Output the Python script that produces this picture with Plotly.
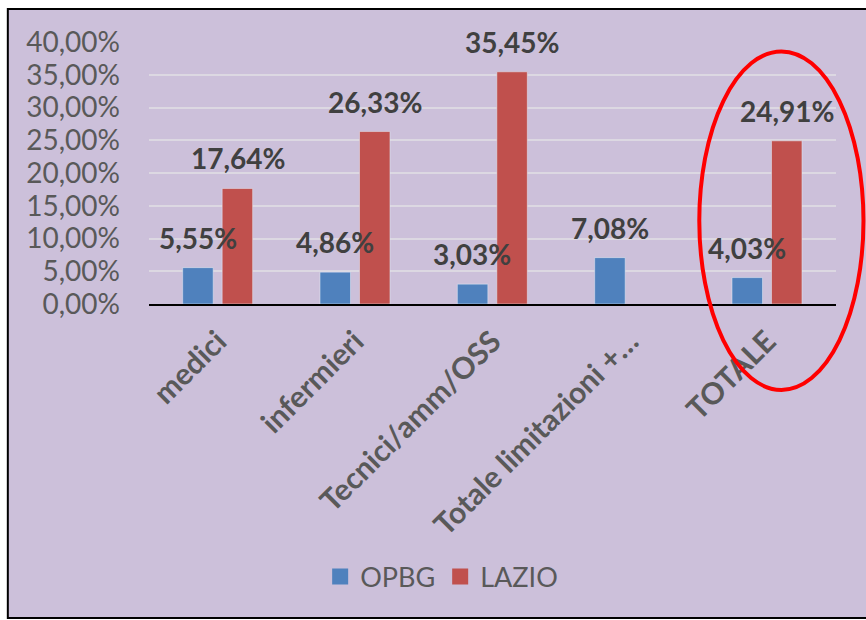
import plotly.graph_objects as go

categories = ["medici", "infermieri", "Tecnici/amm/OSS", "Totale limitazioni +…", "TOTALE"]
opbg = [5.55, 4.86, 3.03, 7.08, 4.03]
lazio = [17.64, 26.33, 35.45, None, 24.91]
tick_vals = [0, 5, 10, 15, 20, 25, 30, 35, 40]
tick_text = ["0,00%", "5,00%", "10,00%", "15,00%", "20,00%", "25,00%", "30,00%", "35,00%", "40,00%"]

BLUE = "#4F81BD"
RED = "#C0504D"
BG = "#CCC0DA"
FONT = "Lato"

def fmt(v):
    return f"{v:.2f}".replace(".", ",") + "%"

fig = go.Figure()
fig.add_trace(go.Bar(name="OPBG", x=categories, y=opbg, marker_color=BLUE, showlegend=False))
fig.add_trace(go.Bar(name="LAZIO", x=categories, y=lazio, marker_color=RED, showlegend=False))
# legend entries with larger square swatches
for name, col in (("OPBG", BLUE), ("LAZIO", RED)):
    fig.add_trace(go.Scatter(name=name, x=[None], y=[None], mode="markers",
                             marker=dict(symbol="square", size=18, color=col)))

annotations = []
for series, shift in ((opbg, -20), (lazio, 20)):
    for c, v in zip(categories, series):
        if v is None:
            continue
        annotations.append(dict(
            x=c, y=v, xref="x", yref="y", text=fmt(v), showarrow=False,
            xshift=shift, yshift=30, yanchor="middle", xanchor="center",
            font=dict(family=FONT, size=28, color="#404040", weight="bold"),
        ))

fig.update_layout(
    width=866, height=620,
    margin=dict(l=149, r=30, t=42, b=316),
    paper_bgcolor="white",
    plot_bgcolor=BG,
    barmode="group",
    bargap=0.425,
    bargroupgap=0.228,
    font=dict(family=FONT, size=28, color="#595959"),
    showlegend=True,
    legend=dict(
        orientation="h", x=0.426, xanchor="center", y=-1.042, yanchor="middle",
        font=dict(family=FONT, size=27, color="#595959"),
        bgcolor="rgba(0,0,0,0)", itemwidth=30,
    ),
    annotations=annotations,
    shapes=[
        dict(type="rect", xref="paper", yref="paper", x0=-0.2055, x1=1.06, y0=-1.198, y1=1.126,
             fillcolor=BG, line=dict(color="black", width=2), layer="below"),
        dict(type="circle", xref="paper", yref="paper", x0=0.801, x1=1.04, y0=-0.328, y1=0.964,
             line=dict(color="#FF0000", width=4), layer="above"),
    ],
)
fig.update_yaxes(
    range=[0, 40], tickvals=tick_vals, ticktext=tick_text,
    showgrid=True, gridcolor="#DCD8E2", gridwidth=2,
    zeroline=False, showline=False, ticks="", ticklabelstandoff=28,
    tickfont=dict(family=FONT, size=28, color="#595959"),
)
fig.update_xaxes(
    tickangle=-45, showline=True, linecolor="black", linewidth=2, ticks="",
    ticklabelstandoff=6,
    tickfont=dict(family=FONT, size=30, color="#595959", weight="bold"),
)

fig.write_html("out.html", config={"displayModeBar": False},
               post_script="document.body.style.margin='0';")
